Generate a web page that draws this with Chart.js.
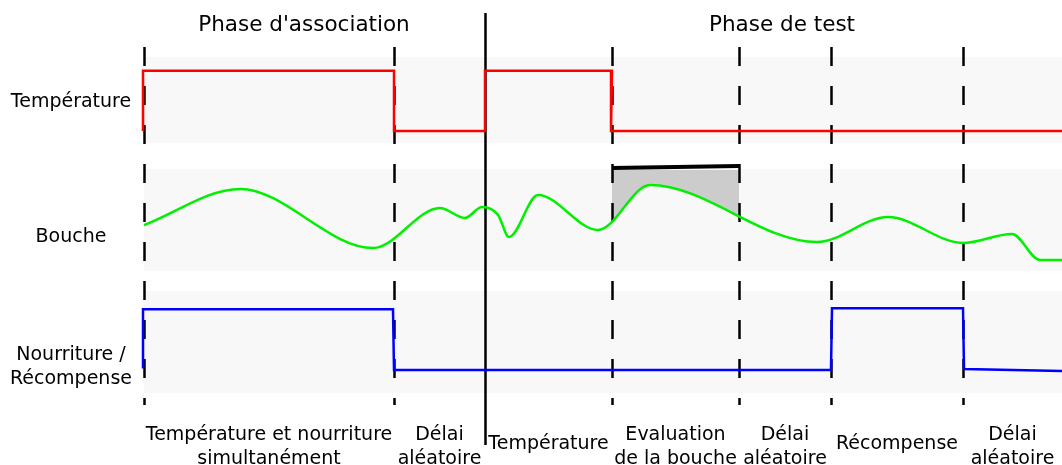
<!DOCTYPE html>
<html>
<head>
<meta charset="utf-8">
<script src="https://cdn.jsdelivr.net/npm/chart.js@4.4.1/dist/chart.umd.min.js"></script>
<style>
  body { margin: 0; background: #fff; }
  #wrap { width: 1062px; height: 465px; }
</style>
</head>
<body>
<div id="wrap"><canvas id="protocolChart" width="1062" height="465"></canvas></div>
<script>
// time axis (s), 0 = start of the association phase
let phaseBounds = [0, 25, 46.8, 59.5, 68.7, 81.9];
let testStart = 34.1;
let endTime = 91.8;

// temperature signal (level in % of its band)
let tempTimes = [-0.1, -0.1, 25.0, 25.0, 34.1, 34.1, 46.8, 46.7, 91.8];
let tempLevels = [14, 84, 84, 14, 14, 84, 84, 14, 14];

// mouth signal (its turning points)
let mouthTimes = [0, 9.6, 22.9, 29.6, 32.1, 33.8, 35.4, 36.5, 39.4, 45.4, 50.6, 67.3, 74.4, 81.9, 86.8, 89.6, 91.8];
let mouthLevels = [45, 80.4, 22.5, 61.8, 52, 62.7, 55, 33.3, 74.5, 40.2, 84.3, 28.4, 52.9, 27.5, 36.3, 10.8, 10.8];

// food / reward signal
let foodTimes = [-0.1, -0.1, 24.9, 25.0, 68.7, 68.8, 81.9, 82.0, 91.8];
let foodLevels = [24, 82, 82, 22.5, 22.5, 83, 83, 23.5, 21.6];

// evaluation window bar above the mouth trace
let evalTimes = [46.8, 59.5];
let evalLevels = [101, 103];

let rowNames = [["Température"], ["Bouche"], ["Nourriture /", "Récompense"]];
let phaseNames = ["Phase d'association", "Phase de test"];
let stepNames = [
    ["Température et nourriture", "simultanément"],
    ["Délai", "aléatoire"],
    ["Température"],
    ["Evaluation", "de la bouche"],
    ["Délai", "aléatoire"],
    ["Récompense"],
    ["Délai", "aléatoire"]
];

// layout of the three bands (pixels)
let rows = [
    { top: 57, bottom: 143 },
    { top: 169, bottom: 271 },
    { top: 291, bottom: 393 }
];

function toRow(r, level) {
    return rows[r].bottom - level / 100 * (rows[r].bottom - rows[r].top);
}

function points(times, levels, r) {
    return times.map(function (t, i) { return { x: t, y: toRow(r, levels[i]) }; });
}

const FONT = "'DejaVu Sans', sans-serif";

let diagramPlugin = {
    id: 'diagram',
    beforeDatasetsDraw: function (chart) {
        let ctx = chart.ctx;
        let xs = chart.scales.x;
        let ys = chart.scales.y;
        let x0 = xs.getPixelForValue(0);
        let xEnd = xs.getPixelForValue(endTime);

        ctx.save();
        // bands
        ctx.fillStyle = '#f8f8f8';
        rows.forEach(function (r) {
            ctx.fillRect(x0, ys.getPixelForValue(r.top), xEnd - x0, ys.getPixelForValue(r.bottom) - ys.getPixelForValue(r.top));
        });

        // grey area between the eval window and the mouth trace
        let mouthLine = chart.getDatasetMeta(1).dataset;
        let ea = xs.getPixelForValue(evalTimes[0]);
        let eb = xs.getPixelForValue(evalTimes[1]);
        let eTop = ys.getPixelForValue(rows[1].top + 1);
        ctx.save();
        ctx.beginPath();
        ctx.rect(ea, eTop, eb - ea, ys.getPixelForValue(rows[1].bottom) - eTop);
        ctx.clip();
        ctx.beginPath();
        mouthLine.path(ctx);
        ctx.lineTo(xEnd, eTop);
        ctx.lineTo(x0, eTop);
        ctx.closePath();
        ctx.fillStyle = '#cccccc';
        ctx.fill();
        ctx.restore();

        // dashed phase boundaries
        ctx.strokeStyle = '#000';
        ctx.lineWidth = 2.5;
        ctx.setLineDash([19, 20]);
        phaseBounds.forEach(function (t) {
            let x = Math.round(xs.getPixelForValue(t)) + 0.5;
            ctx.beginPath();
            ctx.moveTo(x, 47);
            ctx.lineTo(x, 405);
            ctx.stroke();
        });
        ctx.setLineDash([]);

        // solid line between the two phases
        let xt = Math.round(xs.getPixelForValue(testStart)) + 0.5;
        ctx.beginPath();
        ctx.moveTo(xt, 13);
        ctx.lineTo(xt, 445);
        ctx.stroke();

        // texts
        ctx.fillStyle = '#000';
        ctx.textAlign = 'center';
        ctx.textBaseline = 'middle';
        ctx.font = '21.5px ' + FONT;
        ctx.fillText(phaseNames[0], 304, 25);
        ctx.fillText(phaseNames[1], 782, 25);

        ctx.font = '19px ' + FONT;
        let rowCenters = [102, 237, 367];
        rowNames.forEach(function (lines, i) {
            lines.forEach(function (s, j) {
                ctx.fillText(s, 71, rowCenters[i] + (j - (lines.length - 1) / 2) * 24);
            });
        });

        let edges = phaseBounds.slice(0, 2).concat([testStart]).concat(phaseBounds.slice(2)).concat([endTime]);
        stepNames.forEach(function (lines, i) {
            let cx = (xs.getPixelForValue(edges[i]) + xs.getPixelForValue(edges[i + 1])) / 2;
            let cy = lines.length > 1 ? 447 : 444;
            lines.forEach(function (s, j) {
                ctx.fillText(s, cx, cy + (j - (lines.length - 1) / 2) * 24);
            });
        });
        ctx.restore();
    }
};

new Chart(document.getElementById('protocolChart'), {
    type: 'line',
    data: {
        datasets: [{
            label: 'Température',
            data: points(tempTimes, tempLevels, 0),
            borderColor: '#ff0000',
            borderWidth: 2.5,
            tension: 0
        }, {
            label: 'Bouche',
            data: points(mouthTimes, mouthLevels, 1),
            borderColor: '#00f000',
            borderWidth: 2.5,
            cubicInterpolationMode: 'monotone'
        }, {
            label: 'Nourriture / Récompense',
            data: points(foodTimes, foodLevels, 2),
            borderColor: '#0000ff',
            borderWidth: 2.5,
            tension: 0
        }, {
            label: 'Evaluation',
            data: points(evalTimes, evalLevels, 1),
            borderColor: '#000',
            borderWidth: 4,
            tension: 0
        }]
    },
    options: {
        responsive: false,
        animation: false,
        elements: { point: { radius: 0, hoverRadius: 0 } },
        layout: { padding: 0, autoPadding: false },
        scales: {
            x: { type: 'linear', min: -14.4, max: endTime, display: false },
            y: { min: 0, max: 465, reverse: true, display: false }
        },
        plugins: {
            legend: { display: false },
            tooltip: { enabled: false }
        }
    },
    plugins: [diagramPlugin]
});
</script>
</body>
</html>
